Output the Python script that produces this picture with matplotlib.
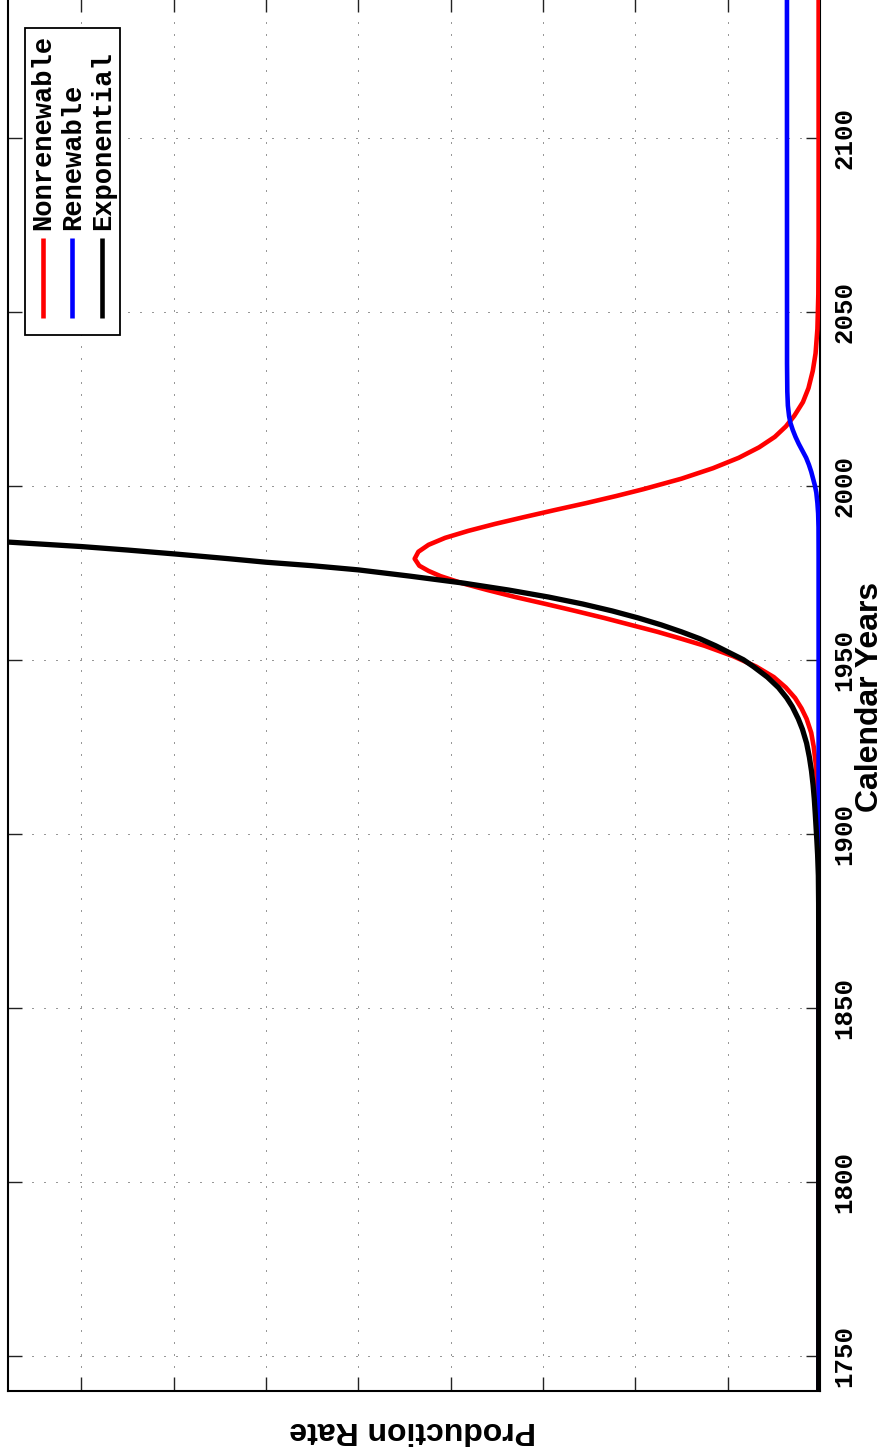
import numpy as np
import matplotlib
matplotlib.use("Agg")
import matplotlib.pyplot as plt
from matplotlib.patches import Rectangle
from matplotlib.lines import Line2D

# production rate curves (arbitrary units) against calendar year
nonrenew_years = [1740, 1850, 1880, 1895, 1905, 1910, 1915, 1920, 1925, 1929,
                  1933, 1936, 1939, 1942, 1945, 1948, 1951, 1954, 1956, 1958,
                  1960, 1962, 1964, 1966, 1968, 1970, 1972, 1974, 1975.5, 1977,
                  1979, 1981, 1983, 1985, 1987, 1989, 1991, 1993, 1995, 1997,
                  1999, 2002, 2005, 2008, 2011, 2014, 2017, 2020, 2024, 2028,
                  2033, 2038, 2045, 2055, 2070, 2140]
nonrenew_rate = [0.015, 0.015, 0.016, 0.018, 0.022, 0.026, 0.033, 0.046, 0.068, 0.095,
                 0.145, 0.20, 0.27, 0.37, 0.50, 0.69, 0.94, 1.25, 1.50, 1.76,
                 2.05, 2.34, 2.65, 2.97, 3.30, 3.60, 3.88, 4.11, 4.24, 4.34,
                 4.39, 4.35, 4.24, 4.06, 3.81, 3.52, 3.20, 2.87, 2.53, 2.21,
                 1.91, 1.50, 1.16, 0.88, 0.66, 0.49, 0.37, 0.28, 0.185, 0.125,
                 0.078, 0.048, 0.028, 0.018, 0.015, 0.015]

renew_years = [1740, 1980, 1988, 1992, 1995, 1998, 2000, 2002, 2004, 2006,
               2008, 2010, 2012, 2014, 2016, 2018, 2020, 2023, 2027, 2035, 2140]
renew_rate = [0.015, 0.015, 0.016, 0.020, 0.028, 0.040, 0.055, 0.075, 0.095, 0.12,
              0.15, 0.19, 0.23, 0.265, 0.295, 0.32, 0.335, 0.348, 0.354, 0.357, 0.358]

expo_years = [1740, 1860, 1880, 1888, 1894, 1898, 1902, 1906, 1910, 1914,
              1918, 1922, 1926, 1930, 1933, 1936.5, 1939, 1942, 1945, 1948,
              1950, 1952, 1954, 1956, 1958, 1960, 1962, 1964, 1966, 1968,
              1970, 1972, 1974, 1975.8, 1977, 1978, 1979, 1980.4, 1981.5, 1982.5,
              1983.8]
expo_rate = [0.014, 0.014, 0.015, 0.018, 0.026, 0.034, 0.043, 0.052, 0.062, 0.075,
             0.092, 0.115, 0.145, 0.19, 0.235, 0.30, 0.36, 0.45, 0.57, 0.72,
             0.83, 0.98, 1.13, 1.30, 1.50, 1.72, 1.97, 2.25, 2.57, 2.94,
             3.37, 3.86, 4.44, 5.00, 5.50, 6.00, 6.40, 7.00, 7.50, 8.00,
             8.80]

year_ticks = [1750, 1800, 1850, 1900, 1950, 2000, 2050, 2100]
rate_ticks = [1, 2, 3, 4, 5, 6, 7, 8]

series = [
    ("Nonrenewable", nonrenew_years, nonrenew_rate, "#ff0000"),
    ("Renewable", renew_years, renew_rate, "#0000ff"),
    ("Exponential", expo_years, expo_rate, "#000000"),
]

W, H = 889, 1453
fig = plt.figure(figsize=(W / 100, H / 100), dpi=100)

# axes box in pixels: x 7.5..820, y (from top) -1.7..1390.7
ax = fig.add_axes([7.5 / W, (H - 1390.7) / H, 812.5 / W, 1392.4 / H])
ax.set_xlim(8.8, 0)
ax.set_ylim(1740, 2140)

for name, yrs, rate, col in series:
    lw = 3.8 if name == "Exponential" else 3.3
    ax.plot(rate, yrs, color=col, lw=lw, zorder=3, solid_joinstyle="round")

ax.set_yticks(year_ticks)
ax.set_xticks(rate_ticks)
ax.set_xticklabels([])
ax.yaxis.tick_right()
ax.tick_params(axis="both", which="major", direction="in", length=10, width=1.0,
               color="#222222", top=True, bottom=True, left=True, right=True)
ax.tick_params(axis="y", labelright=True, labelleft=False, pad=9)
for lab in ax.get_yticklabels():
    lab.set_rotation(90)
    lab.set_va("center")
    lab.set_fontfamily("Liberation Mono")
    lab.set_fontweight("bold")
    lab.set_fontsize(18.5)

ax.grid(True, color="#333333", lw=0.72, linestyle=(0, (1, 11)))
ax.set_axisbelow(True)
for sp in ax.spines.values():
    sp.set_linewidth(1.5)
    sp.set_color("black")

fig.text(870 / W, 1 - 697 / H, "Calendar Years", rotation=90, ha="center", va="center",
         family="Liberation Sans", weight="bold", fontsize=23)
fig.text(413 / W, 1 - 1430 / H, "Production Rate", rotation=180, ha="center", va="center",
         family="Liberation Sans", weight="bold", fontsize=23)

# legend drawn by hand, turned on its side like the rest of the plot
box = Rectangle((25 / W, 1 - 335 / H), 95 / W, 307 / H, transform=fig.transFigure,
                facecolor="white", edgecolor="black", lw=1.3, zorder=5)
fig.add_artist(box)
for i, (name, yrs, rate, col) in enumerate(series):
    xc = (42.7 + 29.5 * i) / W
    fig.add_artist(Line2D([xc, xc], [1 - 318 / H, 1 - 238 / H], transform=fig.transFigure,
                          color=col, lw=3.3, solid_capstyle="butt", zorder=6))
    fig.text(xc + 1 / W, 1 - 230 / H, name, rotation=90, rotation_mode="anchor",
             ha="left", va="center", family="Liberation Mono", weight="bold",
             fontsize=19.5, zorder=6)

fig.savefig("out.png", dpi=100)
